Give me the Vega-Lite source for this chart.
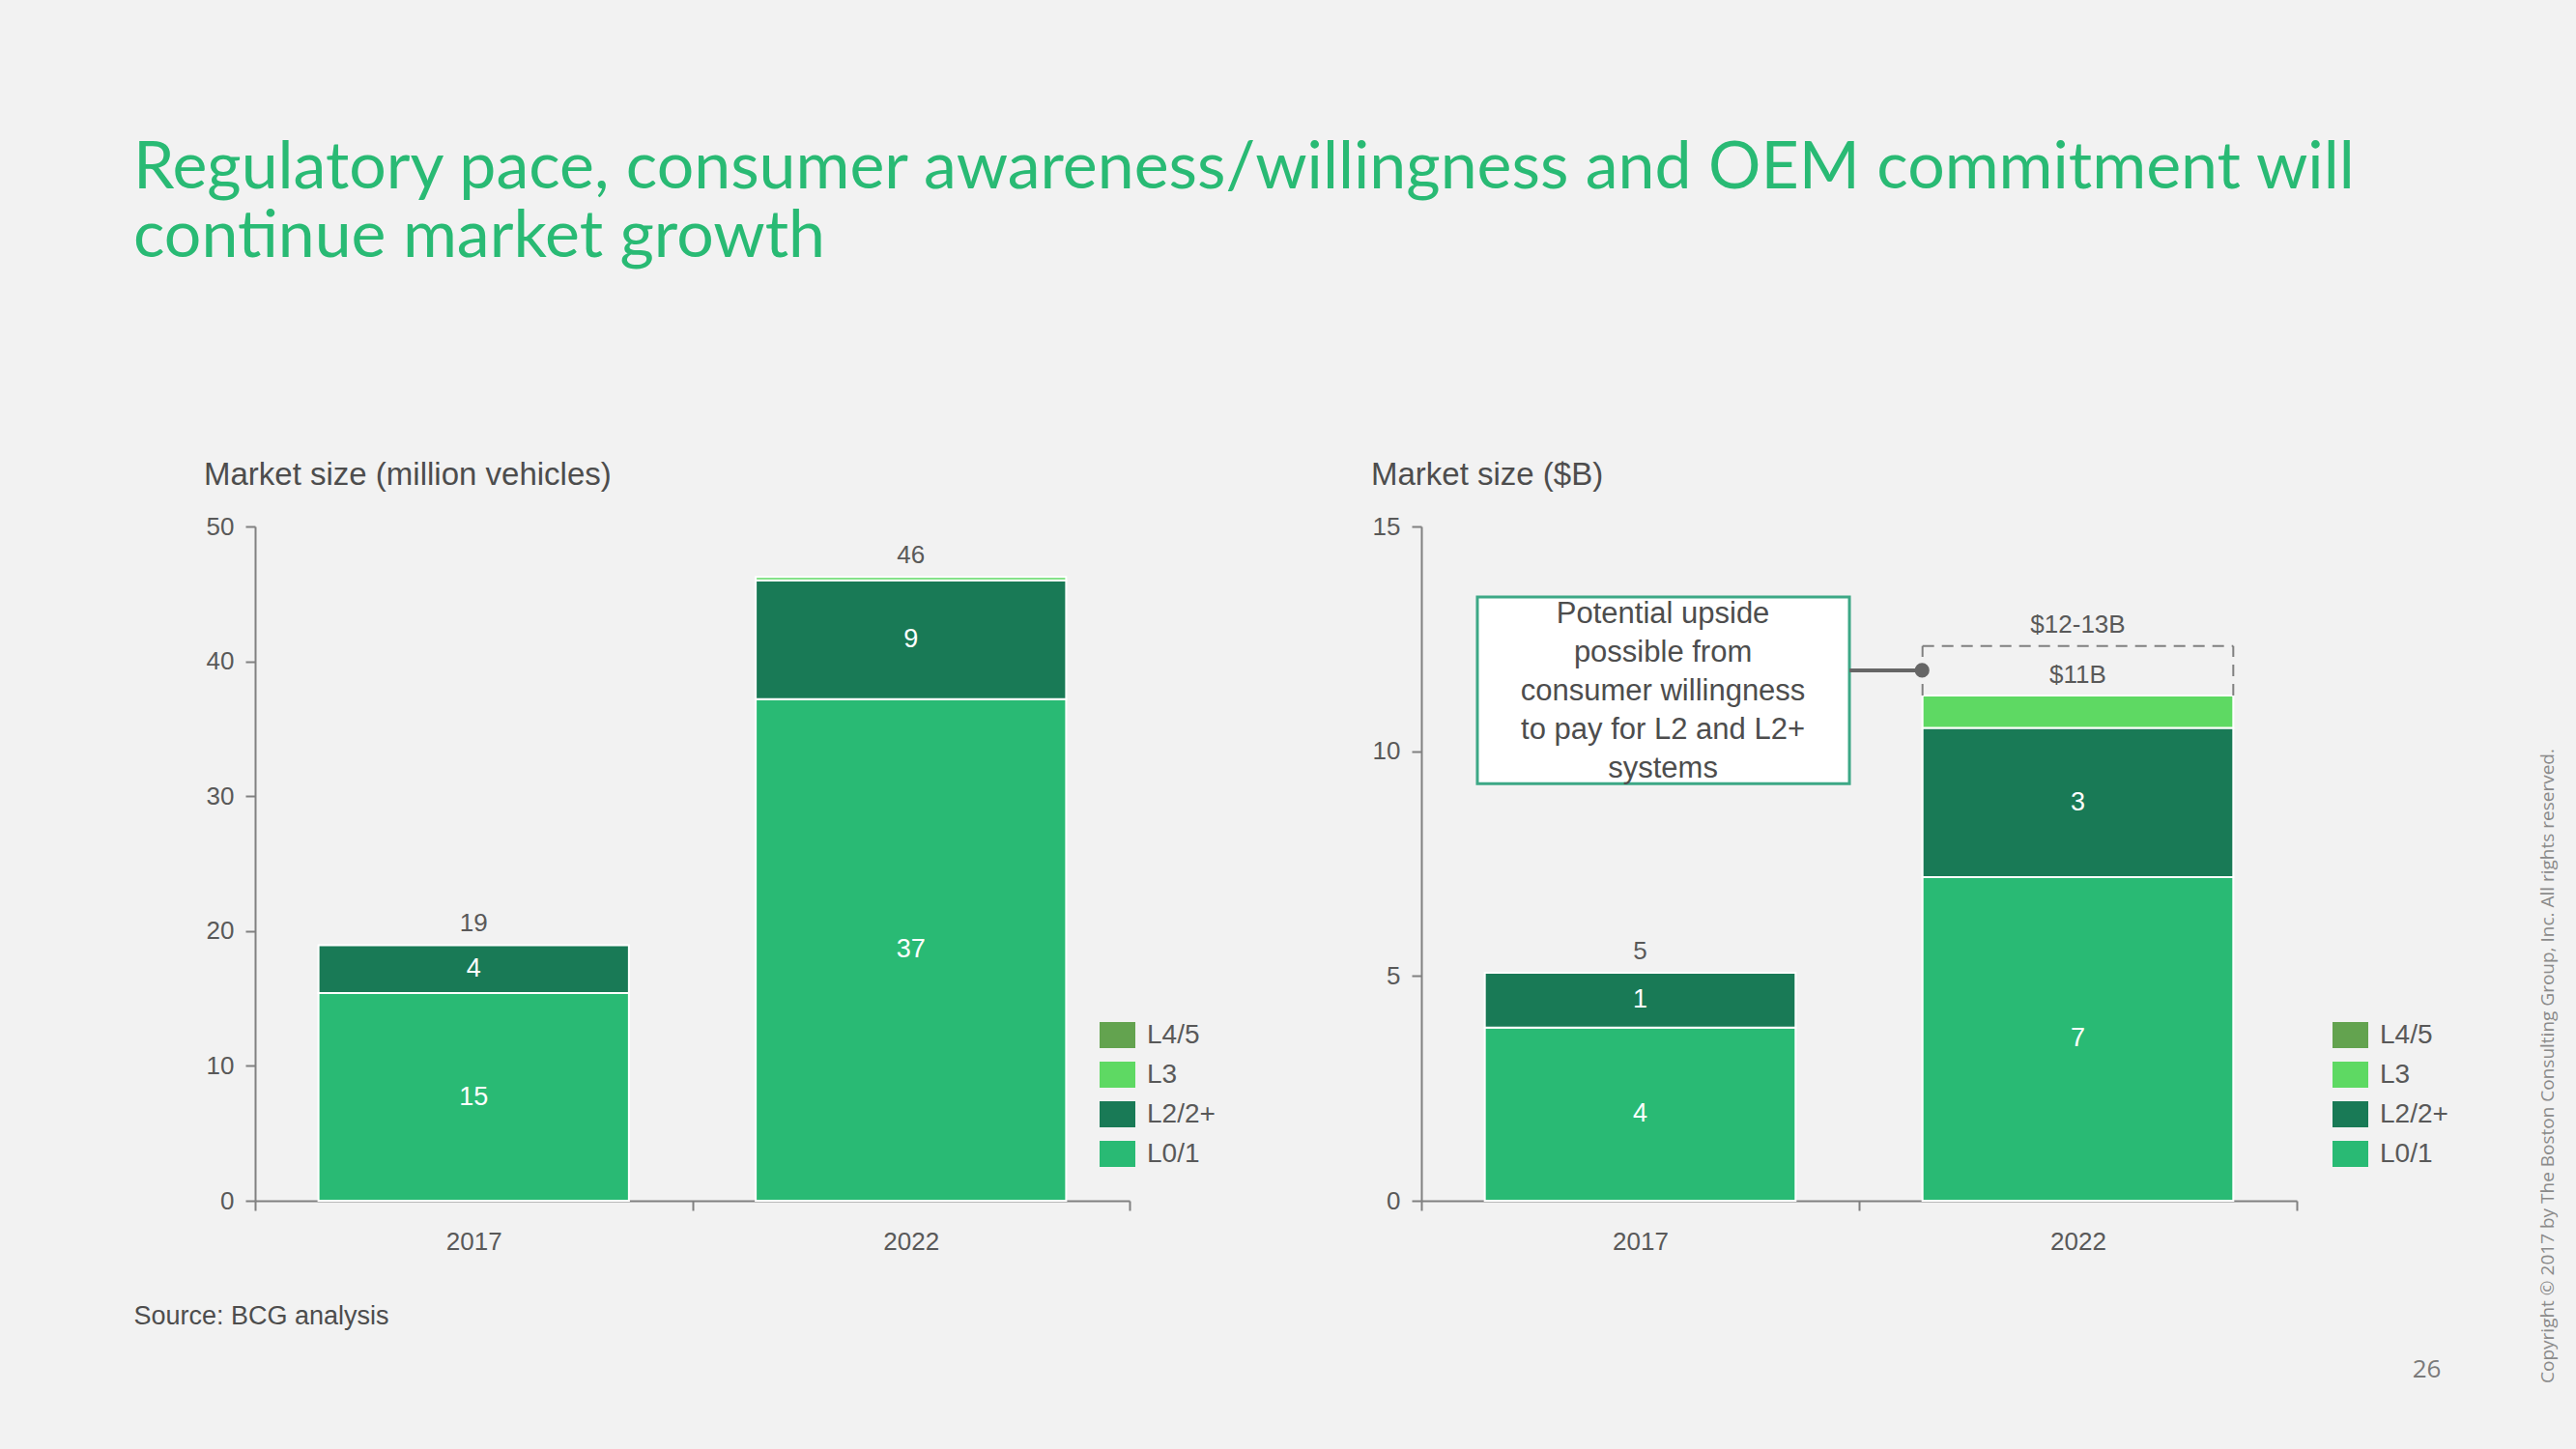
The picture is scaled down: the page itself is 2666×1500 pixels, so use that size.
{
  "$schema": "https://vega.github.io/schema/vega-lite/v6.json",
  "background": "#F2F2F2",
  "padding": {"left": 138, "top": 141, "right": 40, "bottom": 80},
  "title": {
    "text": ["Regulatory pace, consumer awareness/willingness and OEM commitment will", "continue market growth"],
    "anchor": "start",
    "frame": "bounds",
    "font": "Lato",
    "fontSize": 68,
    "fontWeight": "normal",
    "color": "#29BA74",
    "lineHeight": 71,
    "offset": 196
  },
  "bounds": "flush",
  "spacing": 302,
  "resolve": {"scale": {"color": "independent"}},
  "config": {
    "view": {"stroke": null},
    "font": "Liberation Sans",
    "axis": {
      "domainColor": "#808080",
      "domainWidth": 2,
      "tickColor": "#808080",
      "tickWidth": 2,
      "tickSize": 10,
      "labelColor": "#595959",
      "labelFontSize": 26,
      "labelFont": "Liberation Sans",
      "grid": false
    },
    "axisX": {"labelAngle": 0, "tickBand": "extent", "labelPadding": 19, "labelAlign": "center"},
    "axisY": {"labelPadding": 12},
    "legend": {
      "orient": "none",
      "title": null,
      "symbolType": "M-1,-0.73L1,-0.73L1,0.73L-1,0.73Z",
      "symbolSize": 1369,
      "symbolStrokeWidth": 0,
      "labelFontSize": 28,
      "labelColor": "#595959",
      "labelOffset": 12,
      "rowPadding": 8,
      "padding": 0
    }
  },
  "hconcat": [
    {
      "width": 905,
      "height": 698,
      "title": {
        "text": "Market size (million vehicles)",
        "anchor": "start",
        "frame": "group",
        "dx": -53,
        "fontSize": 33,
        "fontWeight": "normal",
        "color": "#4d4d4d",
        "baseline": "alphabetic",
        "offset": -3
      },
      "data": {
        "values": [
          {"year": "2017", "level": "L0/1", "value": 15.4},
          {"year": "2017", "level": "L2/2+", "value": 3.55},
          {"year": "2022", "level": "L0/1", "value": 37.2},
          {"year": "2022", "level": "L2/2+", "value": 8.8},
          {"year": "2022", "level": "L3", "value": 0.25}
        ]
      },
      "layer": [
        {
          "mark": {"type": "bar", "stroke": "white", "strokeWidth": 2, "width": {"band": 0.71}},
          "encoding": {
            "x": {
              "field": "year", "type": "nominal",
              "scale": {"paddingInner": 0, "paddingOuter": 0},
              "axis": {
                "title": "Source: BCG analysis",
                "titleX": -126, "titleY": 119,
                "titleAlign": "left", "titleBaseline": "middle",
                "titleFontSize": 27, "titleFontWeight": "normal", "titleColor": "#4d4d4d",
                "titleFont": "Liberation Sans"
              }
            },
            "y": {
              "field": "value", "type": "quantitative",
              "scale": {"domain": [0, 50], "nice": false},
              "axis": {"values": [0, 10, 20, 30, 40, 50], "title": null}
            },
            "color": {
              "field": "level", "type": "nominal",
              "scale": {"domain": ["L4/5", "L3", "L2/2+", "L0/1"], "range": ["#63A34F", "#5ED963", "#197A56", "#29BA74"]},
              "legend": {"legendX": 874, "legendY": 508}
            },
            "order": {"field": "level", "sort": "ascending"}
          }
        },
        {
          "transform": [{"filter": {"field": "level", "oneOf": ["L0/1", "L2/2+"]}}],
          "mark": {"type": "text", "color": "white", "fontSize": 27},
          "encoding": {
            "x": {"field": "year", "type": "nominal"},
            "y": {"field": "value", "type": "quantitative", "stack": "zero", "bandPosition": 0.5, "title": null},
            "detail": {"field": "level"},
            "order": {"field": "level", "sort": "ascending"},
            "text": {"field": "value", "type": "quantitative", "format": ".0f"}
          }
        },
        {
          "transform": [{"aggregate": [{"op": "sum", "field": "value", "as": "total"}], "groupby": ["year"]}],
          "mark": {"type": "text", "color": "#595959", "fontSize": 26, "dy": -22},
          "encoding": {
            "x": {"field": "year", "type": "nominal"},
            "y": {"field": "total", "type": "quantitative", "title": null},
            "text": {"field": "total", "type": "quantitative", "format": ".0f"}
          }
        }
      ]
    },
    {
      "width": 906,
      "height": 698,
      "title": {
        "text": "Market size ($B)",
        "anchor": "start",
        "frame": "group",
        "dx": -52,
        "fontSize": 33,
        "fontWeight": "normal",
        "color": "#4d4d4d",
        "baseline": "alphabetic",
        "offset": -3
      },
      "data": {
        "values": [
          {"year": "2017", "level": "L0/1", "value": 3.85},
          {"year": "2017", "level": "L2/2+", "value": 1.22},
          {"year": "2022", "level": "L0/1", "value": 7.2},
          {"year": "2022", "level": "L2/2+", "value": 3.32},
          {"year": "2022", "level": "L3", "value": 0.72}
        ]
      },
      "layer": [
        {
          "mark": {"type": "bar", "stroke": "white", "strokeWidth": 2, "width": {"band": 0.71}},
          "encoding": {
            "x": {
              "field": "year", "type": "nominal",
              "scale": {"paddingInner": 0, "paddingOuter": 0},
              "axis": {
                "title": "26",
                "titleX": 1040, "titleY": 174,
                "titleAlign": "center", "titleBaseline": "middle",
                "titleFontSize": 26, "titleFontWeight": "normal", "titleColor": "#7a7a7a",
                "titleFont": "Open Sans"
              }
            },
            "y": {
              "field": "value", "type": "quantitative",
              "scale": {"domain": [0, 15], "nice": false},
              "axis": {
                "values": [0, 5, 10, 15],
                "title": "Copyright © 2017 by The Boston Consulting Group, Inc. All rights reserved.",
                "titleX": 1165, "titleY": 558, "titleAngle": 270,
                "titleAlign": "center", "titleBaseline": "middle",
                "titleFontSize": 19, "titleFontWeight": "normal", "titleColor": "#8a8a8a",
                "titleFont": "Open Sans"
              }
            },
            "color": {
              "field": "level", "type": "nominal",
              "scale": {"domain": ["L4/5", "L3", "L2/2+", "L0/1"], "range": ["#63A34F", "#5ED963", "#197A56", "#29BA74"]},
              "legend": {"legendX": 943, "legendY": 508}
            },
            "order": {"field": "level", "sort": "ascending"}
          }
        },
        {
          "transform": [{"filter": {"field": "level", "oneOf": ["L0/1", "L2/2+"]}}],
          "mark": {"type": "text", "color": "white", "fontSize": 27},
          "encoding": {
            "x": {"field": "year", "type": "nominal"},
            "y": {"field": "value", "type": "quantitative", "stack": "zero", "bandPosition": 0.5},
            "detail": {"field": "level"},
            "order": {"field": "level", "sort": "ascending"},
            "text": {"field": "value", "type": "quantitative", "format": ".0f"}
          }
        },
        {
          "transform": [
            {"aggregate": [{"op": "sum", "field": "value", "as": "total"}], "groupby": ["year"]},
            {"filter": {"field": "year", "equal": "2017"}}
          ],
          "mark": {"type": "text", "color": "#595959", "fontSize": 26, "dy": -22},
          "encoding": {
            "x": {"field": "year", "type": "nominal"},
            "y": {"field": "total", "type": "quantitative"},
            "text": {"field": "total", "type": "quantitative", "format": ".0f"}
          }
        },
        {
          "data": {"values": [{"note": "range left"}]},
          "mark": {"type": "rule", "color": "#808080", "strokeWidth": 2, "strokeDash": [12, 8]},
          "encoding": {
            "x": {"datum": "2022", "type": "nominal", "bandPosition": 0.145},
            "y": {"datum": 11.24, "type": "quantitative"},
            "y2": {"datum": 12.34}
          }
        },
        {
          "data": {"values": [{"note": "range right"}]},
          "mark": {"type": "rule", "color": "#808080", "strokeWidth": 2, "strokeDash": [12, 8]},
          "encoding": {
            "x": {"datum": "2022", "type": "nominal", "bandPosition": 0.855},
            "y": {"datum": 11.24, "type": "quantitative"},
            "y2": {"datum": 12.34}
          }
        },
        {
          "data": {"values": [{"note": "range top"}]},
          "mark": {"type": "rule", "color": "#808080", "strokeWidth": 2, "strokeDash": [12, 8]},
          "encoding": {
            "x": {"datum": "2022", "type": "nominal", "bandPosition": 0.145},
            "x2": {"datum": "2022", "bandPosition": 0.855},
            "y": {"datum": 12.34, "type": "quantitative"}
          }
        },
        {
          "data": {"values": [{"note": "callout"}]},
          "mark": {"type": "rect", "fill": "white", "stroke": "#3DA886", "strokeWidth": 3},
          "encoding": {
            "x": {"datum": "2017", "type": "nominal", "bandPosition": 0.128},
            "x2": {"datum": "2017", "bandPosition": 0.978},
            "y": {"datum": 13.43, "type": "quantitative"},
            "y2": {"datum": 9.28}
          }
        },
        {
          "data": {"values": [{"t": "Potential upside\npossible from\nconsumer willingness\nto pay for L2 and L2+\nsystems"}]},
          "mark": {"type": "text", "lineBreak": "\n", "lineHeight": 40, "fontSize": 31, "color": "#4d4d4d", "align": "center", "baseline": "middle"},
          "encoding": {
            "x": {"datum": "2017", "type": "nominal", "bandPosition": 0.552},
            "y": {"datum": 13.05, "type": "quantitative"},
            "text": {"field": "t"}
          }
        },
        {
          "data": {"values": [{"note": "connector"}]},
          "mark": {"type": "rule", "color": "#666666", "strokeWidth": 4},
          "encoding": {
            "x": {"datum": "2017", "type": "nominal", "bandPosition": 0.978},
            "x2": {"datum": "2022", "bandPosition": 0.144},
            "y": {"datum": 11.8, "type": "quantitative"}
          }
        },
        {
          "data": {"values": [{"note": "dot"}]},
          "mark": {"type": "point", "filled": true, "color": "#666666", "size": 230, "opacity": 1},
          "encoding": {
            "x": {"datum": "2022", "type": "nominal", "bandPosition": 0.144},
            "y": {"datum": 11.8, "type": "quantitative"}
          }
        },
        {
          "data": {"values": [{"t": "$12-13B"}]},
          "mark": {"type": "text", "fontSize": 26, "color": "#595959"},
          "encoding": {
            "x": {"datum": "2022", "type": "nominal"},
            "y": {"datum": 12.8, "type": "quantitative"},
            "text": {"field": "t"}
          }
        },
        {
          "data": {"values": [{"t": "$11B"}]},
          "mark": {"type": "text", "fontSize": 26, "color": "#595959"},
          "encoding": {
            "x": {"datum": "2022", "type": "nominal"},
            "y": {"datum": 11.7, "type": "quantitative"},
            "text": {"field": "t"}
          }
        }
      ]
    }
  ]
}
